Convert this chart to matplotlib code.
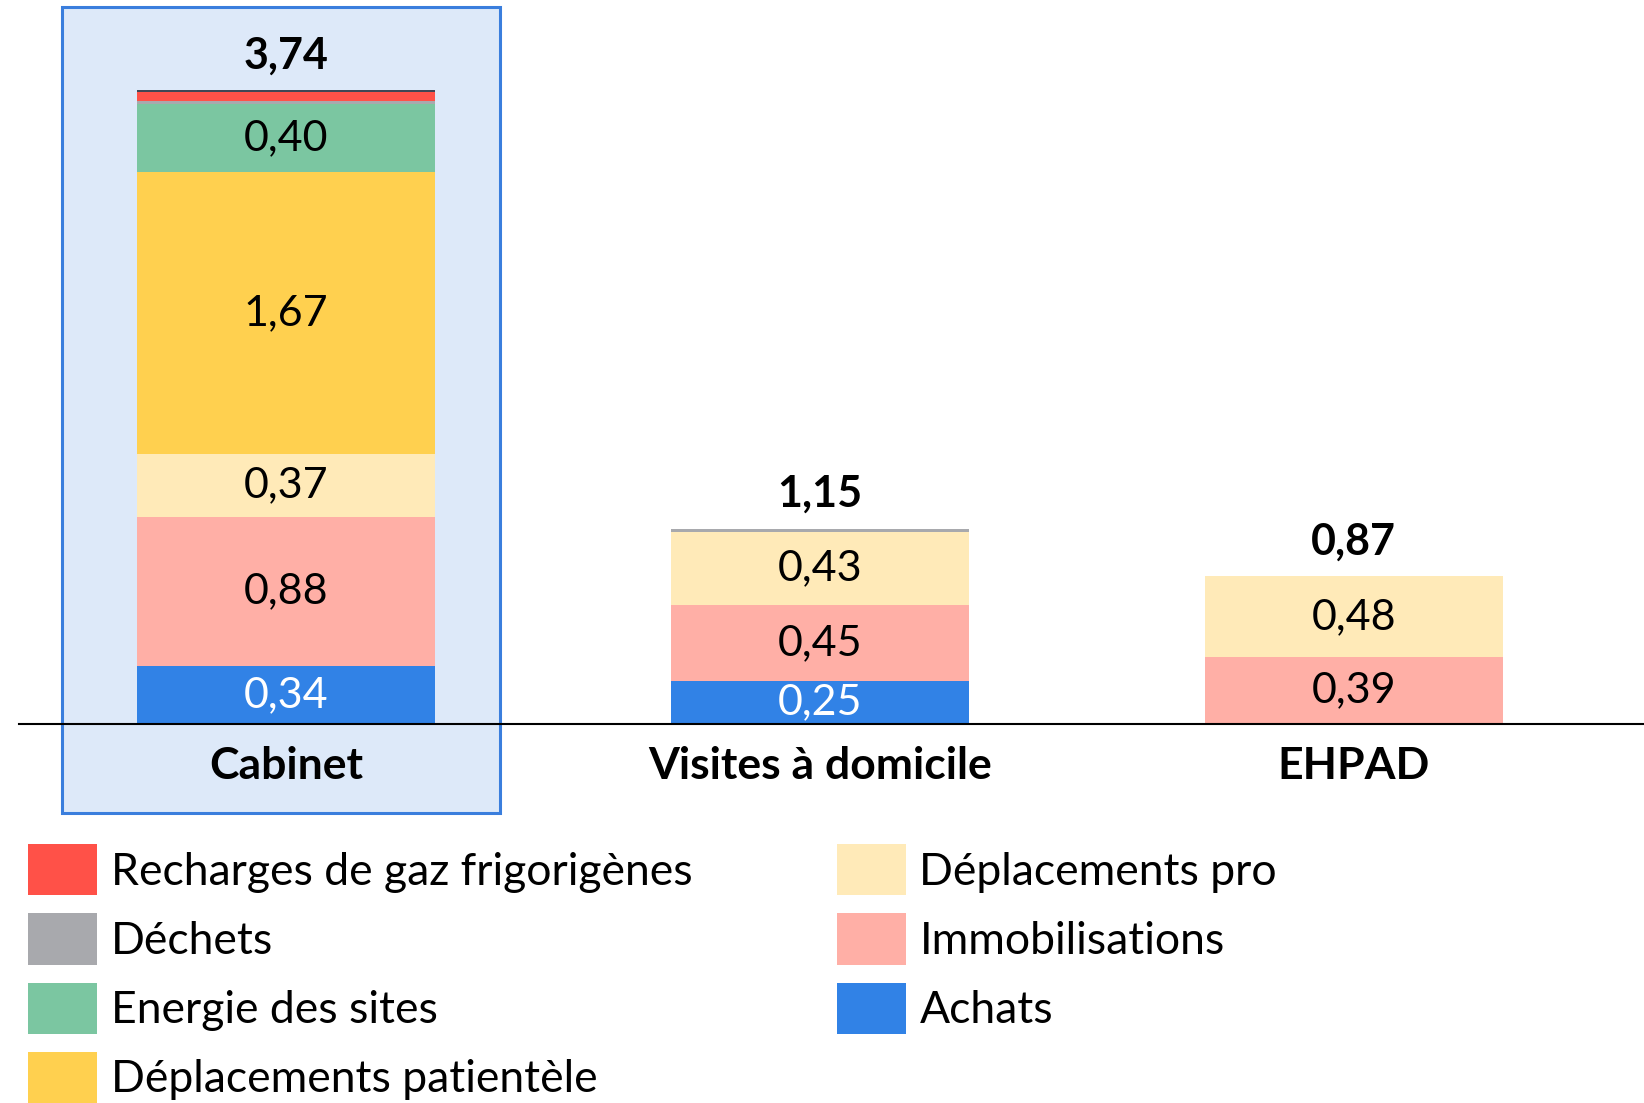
import matplotlib
matplotlib.use("Agg")
import matplotlib.pyplot as plt
from matplotlib.patches import Rectangle, Patch
import numpy as np

plt.rcParams['font.family'] = ['Lato', 'DejaVu Sans']

categories = ["Cabinet", "Visites à domicile", "EHPAD"]
series_names = ["Achats", "Immobilisations", "Déplacements pro",
                "Déplacements patientèle", "Energie des sites", "Déchets",
                "Recharges de gaz frigorigènes", "Autres"]
achats = [0.34, 0.25, 0.00]
immobilisations = [0.88, 0.45, 0.39]
deplacements_pro = [0.37, 0.43, 0.48]
deplacements_patientele = [1.67, 0.00, 0.00]
energie = [0.40, 0.00, 0.00]
dechets = [0.02, 0.02, 0.00]
recharges = [0.05, 0.00, 0.00]
autres = [0.01, 0.00, 0.00]
totals = [3.74, 1.15, 0.87]

series = [achats, immobilisations, deplacements_pro, deplacements_patientele,
          energie, dechets, recharges, autres]
colors = ["#3182E6", "#FFAFA6", "#FFEAB8", "#FFD04F", "#7BC6A1",
          "#A8A9AD", "#FF5148", "#404756"]
text_colors = ["white", "black", "black", "black", "black", None, None, None]
show_label = [True, True, True, True, True, False, False, False]

W, H = 1644, 1103
fig = plt.figure(figsize=(W / 100, H / 100), dpi=100)

# highlight box behind Cabinet
fig.patches.append(Rectangle((62 / W, 1 - 813 / H), (500 - 62) / W, (813 - 7) / H,
                             transform=fig.transFigure, facecolor="#DDE9F9",
                             edgecolor="#3A7EDD", linewidth=2.2, zorder=-1))

ax = fig.add_axes([19 / W, 1 - 723.5 / H, 1 - 19 / W, 723.5 / H])
ax.patch.set_alpha(0)
x = np.arange(len(categories))
bottom = np.zeros(len(categories))
width = 0.558
for vals, col, tc, sl in zip(series, colors, text_colors, show_label):
    vals = np.array(vals)
    ax.bar(x, vals, width, bottom=bottom, color=col, linewidth=0, zorder=2)
    if sl:
        for xi, v, b in zip(x, vals, bottom):
            if v > 0:
                ax.text(xi, b + v / 2, f"{v:.2f}".replace(".", ","), ha="center",
                        va="center", fontsize=31, color=tc, zorder=3)
    bottom += vals

for xi, t, b in zip(x, totals, bottom):
    ax.annotate(f"{t:.2f}".replace(".", ","), (xi, b), xytext=(0, 25),
                textcoords="offset points", ha="center", va="center",
                fontsize=31, fontweight="bold")

ax.set_xlim(-0.5007, 2.544)
ax.set_ylim(0, 4.274)
ax.set_yticks([])
ax.set_xticks(x)
ax.set_xticklabels(categories, fontsize=32, fontweight="bold")
ax.tick_params(axis="x", length=0, pad=16)
for s in ["top", "right", "left"]:
    ax.spines[s].set_visible(False)
ax.spines["bottom"].set_linewidth(1.5)
ax.spines["bottom"].set_zorder(4)

legend_order = [6, 5, 4, 3, 2, 1, 0]
handles = [Patch(facecolor=colors[i], edgecolor="none") for i in legend_order]
labels = [series_names[i] for i in legend_order]
fig.legend(handles, labels, loc="upper left", bbox_to_anchor=(28 / W, 1 - 844 / H),
           ncol=2, frameon=False, fontsize=32, handlelength=1.56, handleheight=1.405,
           handletextpad=0.3, labelspacing=0.4, columnspacing=3.25,
           borderaxespad=0, borderpad=0)

fig.savefig("out.png", dpi=100)
